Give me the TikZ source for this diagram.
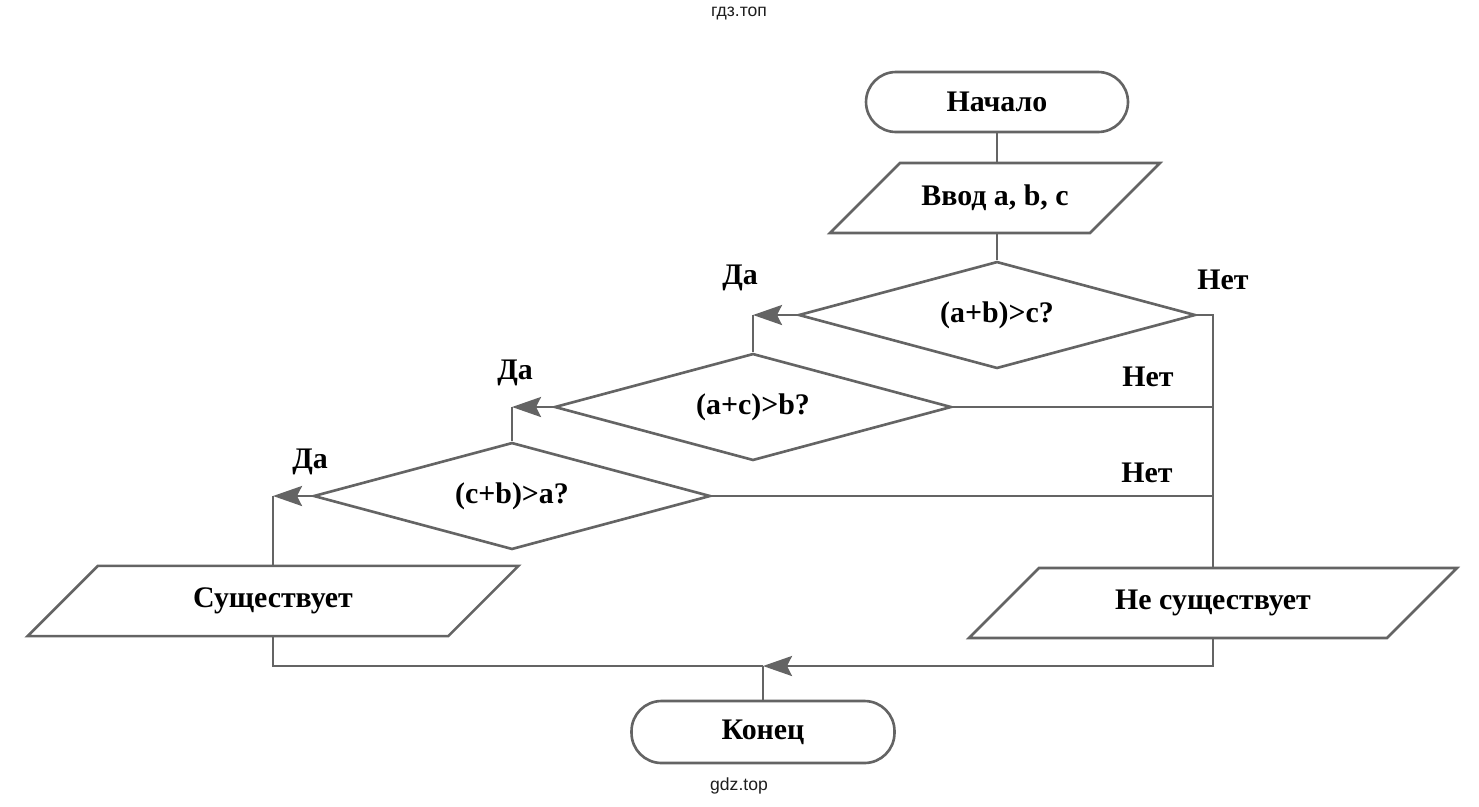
\documentclass[tikz,border=0pt]{standalone}
\usepackage{fontspec}
\setmainfont{Liberation Serif}
\newfontfamily\wmfont{Liberation Sans}
\usepackage{tikz}
\usetikzlibrary{shapes.geometric}
\usetikzlibrary{arrows.meta}
\usetikzlibrary{positioning}

\definecolor{linegray}{RGB}{100,100,100}
\definecolor{wmgray}{RGB}{30,30,30}

\tikzset{
  line/.style={draw=linegray, line width=1.5pt},
  arr/.style={line, -{Stealth[length=0.58cm, width=0.4cm, inset=0.1cm]}},
  bigtext/.style={font=\fontsize{17}{20}\selectfont\bfseries},
  term/.style={line, bigtext, rectangle, rounded corners=0.6cm,
    minimum width=5.24cm, minimum height=1.2cm},
  io/.style={line, bigtext, trapezium, trapezium left angle=45,
    trapezium right angle=135, trapezium stretches body,
    inner xsep=0pt, inner ysep=0.44cm},
  cond/.style={line, bigtext, diamond, aspect=3.7,
    minimum width=7.94cm, minimum height=2.14cm, inner sep=0pt},
  lab/.style={bigtext},
  wm/.style={font=\wmfont\fontsize{10}{12}\selectfont, text=wmgray}
}

\begin{document}
\begin{tikzpicture}[x=0.02cm, y=-0.02cm]
  \useasboundingbox (0,0) rectangle (1479,806);

  % Blocks
  \node[term] (start) at (997,102) {Начало};
  \node[io, minimum width=6.6cm] (input) at (995,198) {Ввод a, b, c};
  \node[cond] (ab) at (997,315) {(a+b)>c?};
  \node[cond] (ac) at (753,407) {(a+c)>b?};
  \node[cond] (cb) at (512,496) {(c+b)>a?};
  \node[io, minimum width=9.82cm] (yes) at (273,601) {Существует};
  \node[io, minimum width=9.76cm] (no) at (1213,603) {Не существует};
  \node[term, minimum width=5.26cm, minimum height=1.24cm] (stop) at (763,732) {Конец};
  \coordinate (join) at (763,666);

  % Labels
  \node[lab] (yes1) at (740,278) {Да};
  \node[lab] (yes2) at (515,373) {Да};
  \node[lab] (yes3) at (310,462) {Да};
  \node[lab] (no1) at (1223,280) {Нет};
  \node[lab] (no2) at (1148,377) {Нет};
  \node[lab] (no3) at (1147,473) {Нет};

  % Connections
  \draw[line] (start) -- (start |- input.north);
  \draw[line] (start |- input.south) -- (ab);
  \draw[arr] (ab.west) -- (ab.west -| ac.north);
  \draw[line] (ab.west -| ac.north) -- (ac.north);
  \draw[arr] (ac.west) -- (ac.west -| cb.north);
  \draw[line] (ac.west -| cb.north) -- (cb.north);
  \draw[arr] (cb.west) -- (cb.west -| yes.north);
  \draw[line] (cb.west -| yes.north) -- (yes.north);
  \draw[line] (ab.east) -| (no.north);
  \draw[line] (ac.east) -- (ac.east -| no.north);
  \draw[line] (cb.east) -- (cb.east -| no.north);
  \draw[line] (yes.south) |- (join);
  \draw[arr] (no.south) |- (join);
  \draw[line] (join) -- (stop);

  % Watermarks
  \node[wm] (wmtop) at (739,14) {гдз.топ};
  \node[wm] (wmbot) at (739,786) {gdz.top};
\end{tikzpicture}
\end{document}
